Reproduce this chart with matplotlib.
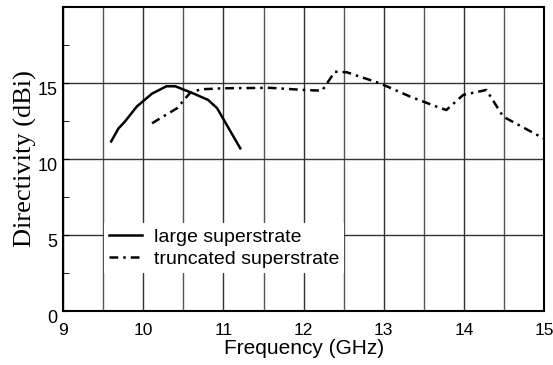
import matplotlib
matplotlib.use("Agg")
import matplotlib.pyplot as plt
import matplotlib.transforms as mtransforms
from matplotlib.ticker import MultipleLocator

# large superstrate
freqLarge = [9.60, 9.69, 9.77, 9.92, 10.11, 10.29, 10.40, 10.62, 10.81, 10.92, 11.21]
dirLarge = [11.15, 12.0, 12.45, 13.45, 14.3, 14.78, 14.78, 14.32, 13.88, 13.35, 10.7]

# truncated superstrate
freqTrunc = [10.11, 10.42, 10.58, 10.71, 11.0, 11.58, 12.0, 12.23, 12.39, 12.54,
             12.95, 13.33, 13.66, 13.78, 13.99, 14.28, 14.45, 14.49, 14.99]
dirTrunc = [12.35, 13.33, 14.32, 14.58, 14.65, 14.68, 14.54, 14.49, 15.74, 15.7,
            14.98, 14.1, 13.44, 13.22, 14.21, 14.54, 13.11, 12.78, 11.36]

plt.rcParams['font.family'] = ['Liberation Sans', 'DejaVu Sans']

fig = plt.figure(figsize=(5.53, 3.65), dpi=100)
ax = fig.add_axes([0.114, 0.148, 0.870, 0.833])

ax.plot(freqLarge, dirLarge, color="black", lw=1.8, label="large superstrate")
ax.plot(freqTrunc, dirTrunc, color="black", lw=1.8, dashes=(3.5, 2, 1, 2),
        label="truncated superstrate")

ax.set_xlim(9, 15)
ax.set_ylim(0, 20)
ax.xaxis.set_major_locator(MultipleLocator(1))
ax.xaxis.set_minor_locator(MultipleLocator(0.5))
ax.yaxis.set_major_locator(MultipleLocator(5))
ax.yaxis.set_minor_locator(MultipleLocator(2.5))
ax.set_yticks([0, 5, 10, 15])
ax.grid(True, which="major", axis="x", color="#333333", lw=1.0)
ax.grid(True, which="minor", axis="x", color="#555555", lw=1.0)
ax.grid(True, which="major", axis="y", color="#333333", lw=1.0)
ax.tick_params(which="both", direction="in", labelsize=13, length=4)
ax.tick_params(axis="x", which="both", length=0, pad=9, labelsize=12.5)
ax.tick_params(axis="y", which="both", pad=4)
for s in ax.spines.values():
    s.set_linewidth(1.5)

# y tick labels in the original sit a little below their lines
shift = mtransforms.ScaledTranslation(0, -4 / 72, fig.dpi_scale_trans)
for lab in ax.get_yticklabels():
    lab.set_transform(lab.get_transform() + shift)

ax.set_xlabel("Frequency (GHz)", fontsize=15, labelpad=0.5)
ax.set_ylabel("Directivity (dBi)", fontsize=19, family="Liberation Serif", labelpad=0)

leg = ax.legend(loc="lower left", bbox_to_anchor=(0.085, 0.125), fontsize=14,
                frameon=True, fancybox=False, edgecolor="white", framealpha=1,
                handlelength=1.7, handletextpad=0.6, borderpad=0.25,
                labelspacing=0.25, borderaxespad=0)
leg.get_frame().set_linewidth(0)

fig.savefig("out.png", dpi=100)
